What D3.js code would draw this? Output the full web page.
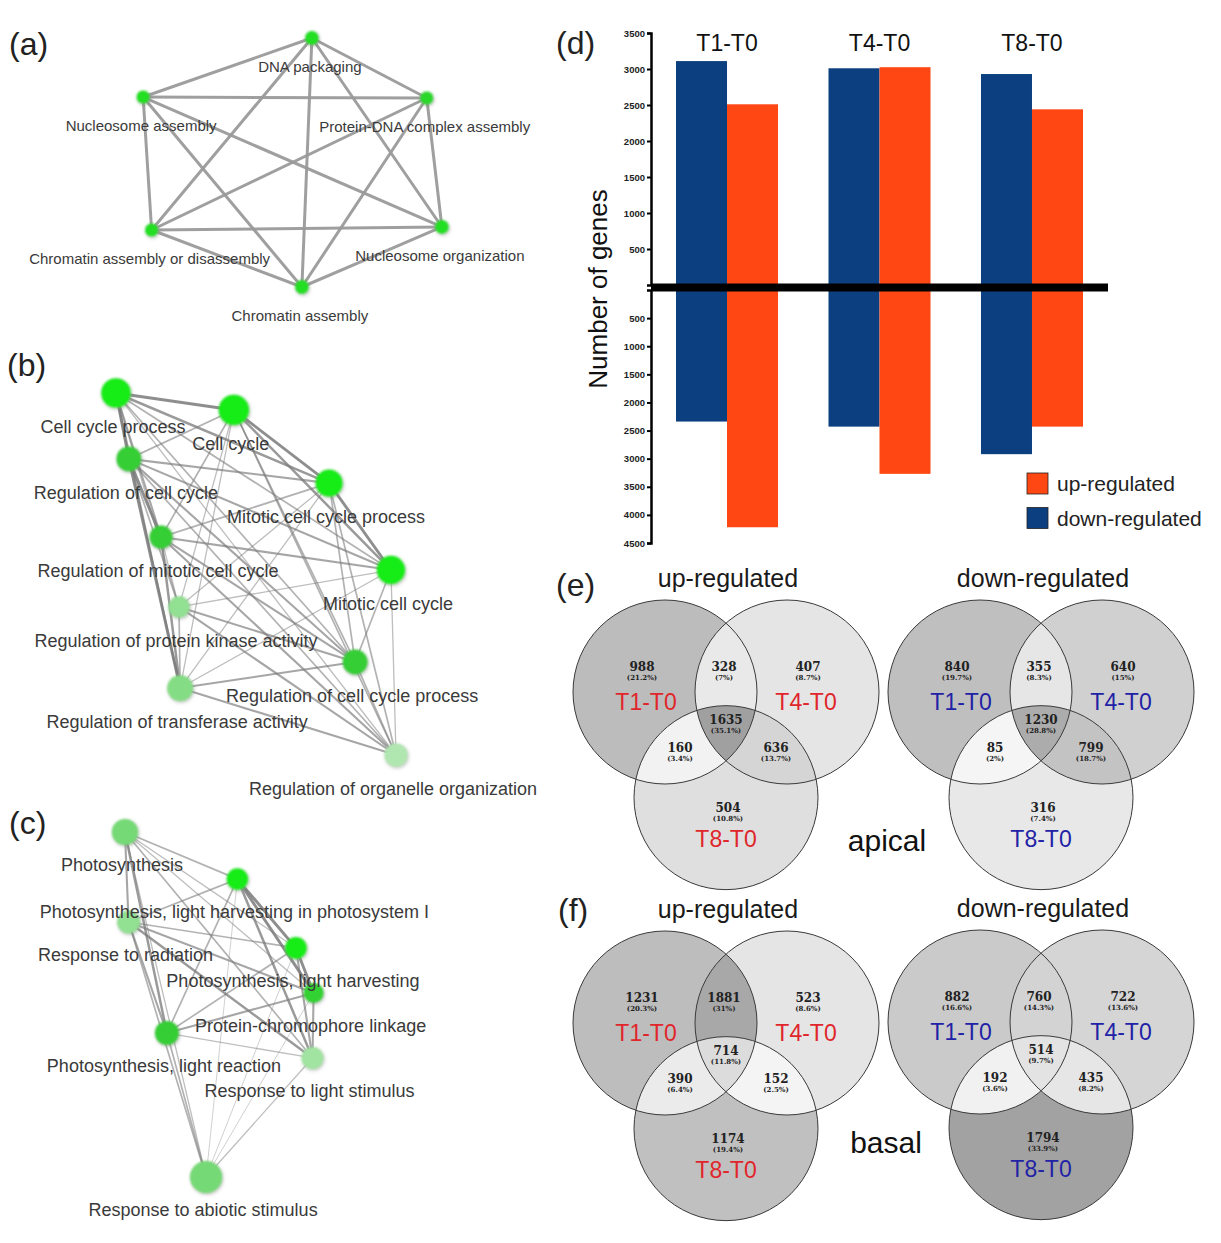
<!DOCTYPE html>
<html>
<head>
<meta charset="utf-8">
<script src="https://cdn.jsdelivr.net/npm/d3@7"></script>
<style>
  body { margin: 0; background: #fff; }
  svg { display: block; font-family: "Liberation Sans", Arial, sans-serif; }
  .net-label { fill: #3a3a3a; text-anchor: middle; }
  .axis-d path, .axis-d line { stroke: #000; }
  .axis-d text { font-weight: bold; font-size: 9.5px; fill: #222; }
</style>
</head>
<body>
<div id="chart"></div>
<script>
// ---------- (a) GO network ----------
const netANames = ['DNA packaging', 'Nucleosome assembly', 'Protein-DNA complex assembly',
  'Chromatin assembly or disassembly', 'Nucleosome organization', 'Chromatin assembly'];
const netALayout = [[56.4, 0], [0.7, 23.7], [94.3, 24.1], [3.5, 77.1], [99.3, 75.9], [53.1, 100]];
const netASize = [4.6, 4.4, 4.4, 4.4, 4.6, 4.6];
const netAShade = [0.8, 0.8, 0.7, 0.8, 0.8, 0.8];
const netAEdges = [[0, 1, 3], [0, 2, 3], [0, 3, 3], [0, 4, 3], [0, 5, 3], [1, 2, 3], [1, 3, 3], [1, 4, 3],
  [1, 5, 3], [2, 3, 3], [2, 4, 3], [2, 5, 3], [3, 4, 3], [3, 5, 3], [4, 5, 3]];

// ---------- (b) GO network ----------
const netBNames = ['Cell cycle process', 'Cell cycle', 'Regulation of cell cycle', 'Mitotic cell cycle process',
  'Regulation of mitotic cell cycle', 'Mitotic cell cycle', 'Regulation of protein kinase activity',
  'Regulation of cell cycle process', 'Regulation of transferase activity', 'Regulation of organelle organization'];
const netBLayout = [[0, 0], [42.1, 4.7], [4.6, 18.2], [76.1, 24.9], [16.1, 39.8], [98.2, 48.9],
  [22.5, 59.1], [85.4, 74.3], [22.9, 81.5], [100, 100]];
const netBSize = [9.9, 10.2, 8.3, 9.1, 7.7, 9.5, 7.1, 8.3, 8.6, 7.7];
const netBShade = [1, 1, 0.55, 1, 0.55, 1, 0.2, 0.55, 0.25, 0.1];
const netBEdges = [[0, 1, 3], [0, 2, 3], [0, 3, 2.5], [0, 4, 2], [0, 5, 1.5], [0, 6, 1], [0, 7, 1.5], [0, 8, 2], [0, 9, 1],
  [1, 2, 1.5], [1, 3, 3], [1, 4, 1.5], [1, 5, 2.5], [1, 6, 1], [1, 7, 1.5], [1, 8, 1], [1, 9, 1.5],
  [2, 3, 2], [2, 4, 3], [2, 5, 2], [2, 6, 1.5], [2, 7, 2], [2, 8, 3], [2, 9, 1.5],
  [3, 4, 1.5], [3, 5, 3], [3, 6, 1], [3, 7, 1.5], [3, 8, 1], [3, 9, 1.5],
  [4, 5, 2], [4, 6, 1], [4, 7, 2], [4, 8, 2.5], [4, 9, 2],
  [5, 6, 1], [5, 7, 1.5], [5, 8, 1], [5, 9, 1],
  [6, 7, 2], [6, 8, 1.5], [6, 9, 2], [7, 8, 2], [7, 9, 1.5], [8, 9, 2]];

// ---------- (c) GO network ----------
const netCNames = ['Photosynthesis', 'Photosynthesis, light harvesting in photosystem I', 'Response to radiation',
  'Photosynthesis, light harvesting', 'Protein-chromophore linkage', 'Photosynthesis, light reaction',
  'Response to light stimulus', 'Response to abiotic stimulus'];
const netCLayout = [[0.5, 0.3], [59.7, 13.9], [2.4, 26.3], [90.5, 33.8], [99.8, 46.8], [22.6, 58.4], [99.2, 65.6], [43.2, 100]];
const netCSize = [8.7, 7.2, 7.6, 7.3, 6.7, 8, 7.3, 10.7];
const netCShade = [0.3, 1, 0.2, 1, 0.6, 0.55, 0.15, 0.3];
const netCEdges = [[0, 1, 1.5], [0, 2, 2], [0, 3, 1], [0, 4, 1], [0, 5, 2.5], [0, 6, 1.5], [0, 7, 1],
  [1, 2, 1.5], [1, 3, 3], [1, 4, 3], [1, 5, 1.5], [1, 6, 2.5], [1, 7, 0.5],
  [2, 3, 1.5], [2, 4, 2], [2, 5, 2], [2, 6, 2.5], [2, 7, 1.5],
  [3, 4, 3], [3, 5, 1.5], [3, 6, 2], [3, 7, 0.5],
  [4, 5, 2], [4, 6, 2], [4, 7, 0.5], [5, 6, 1], [5, 7, 1.5], [6, 7, 1]];

// ---------- (d) bar chart ----------
const comparisons = ['T1-T0', 'T4-T0', 'T8-T0'];
const barSeries = ['down-regulated', 'up-regulated'];
const aboveDown = [3110, 3010, 2930];
const aboveUp = [2510, 3025, 2440];
const belowDown = [2340, 2430, 2920];
const belowUp = [4220, 3270, 2430];
const upperTicks = [500, 1000, 1500, 2000, 2500, 3000, 3500];
const lowerTicks = [500, 1000, 1500, 2000, 2500, 3000, 3500, 4000, 4500];

// ---------- (e), (f) Venn diagrams ----------
// region order: T1 only, T4 only, T1&T4, T1&T8, T4&T8, all three, T8 only
const vennSets = ['T1-T0', 'T4-T0', 'T8-T0'];
const apicalUpCounts = [988, 407, 328, 160, 636, 1635, 504];
const apicalUpPct = [21.2, 8.7, 7, 3.4, 13.7, 35.1, 10.8];
const apicalDownCounts = [840, 640, 355, 85, 799, 1230, 316];
const apicalDownPct = [19.7, 15, 8.3, 2, 18.7, 28.8, 7.4];
const basalUpCounts = [1231, 523, 1881, 390, 152, 714, 1174];
const basalUpPct = [20.3, 8.6, 31, 6.4, 2.5, 11.8, 19.4];
const basalDownCounts = [882, 722, 760, 192, 435, 514, 1794];
const basalDownPct = [16.6, 13.6, 14.3, 3.6, 8.2, 9.7, 33.9];

const W = 1221, H = 1243;
const svg = d3.select('#chart').append('svg')
  .attr('width', W)
  .attr('height', H)
  .style('background', '#fff');

const defs = svg.append('defs');
const glow = defs.append('filter').attr('id', 'node-glow')
  .attr('x', '-50%').attr('y', '-50%').attr('width', '200%').attr('height', '200%');
glow.append('feGaussianBlur').attr('in', 'SourceGraphic').attr('stdDeviation', 0.9).attr('result', 'soft');
glow.append('feDropShadow').attr('in', 'soft').attr('dx', 1).attr('dy', 1.5)
  .attr('stdDeviation', 1.8).attr('flood-color', '#777').attr('flood-opacity', 0.45);

// panel letters
const panelLetters = [['(a)', 9, 55], ['(b)', 7, 376], ['(c)', 9, 834], ['(d)', 556, 54], ['(e)', 556, 596], ['(f)', 558, 921]];
svg.selectAll('text.panel')
  .data(panelLetters)
  .join('text')
  .attr('class', 'panel')
  .attr('x', d => d[1])
  .attr('y', d => d[2])
  .attr('font-size', 32)
  .attr('fill', '#222')
  .text(d => d[0]);

// ----- networks -----
const nodeColor = d3.scaleLinear().domain([0, 0.5, 1]).range(['#cdeecd', '#3acb3a', '#14ec14']);
const nodeRadius = d3.scaleLinear().domain([0, 10]).range([0, 15]);

function drawNetwork(cfg) {
  const x = d3.scaleLinear().domain([0, 100]).range(cfg.xRange);
  const y = d3.scaleLinear().domain([0, 100]).range(cfg.yRange);
  const g = svg.append('g');
  const nodes = cfg.names.map((name, i) => ({
    name, x: x(cfg.layout[i][0]), y: y(cfg.layout[i][1]), r: nodeRadius(cfg.size[i]), shade: cfg.shade[i],
  }));

  const width = d3.scaleLinear().domain([0.5, 3]).range(cfg.edgeWidth);
  const opacity = d3.scaleLinear().domain([0.5, 3]).range(cfg.edgeOpacity);

  g.selectAll('line')
    .data(cfg.edges)
    .join('line')
    .attr('x1', d => nodes[d[0]].x)
    .attr('y1', d => nodes[d[0]].y)
    .attr('x2', d => nodes[d[1]].x)
    .attr('y2', d => nodes[d[1]].y)
    .attr('stroke', cfg.edgeColor)
    .attr('stroke-opacity', d => opacity(d[2]))
    .attr('stroke-width', d => width(d[2]))
    .attr('stroke-linecap', 'round');

  g.selectAll('circle')
    .data(nodes)
    .join('circle')
    .attr('cx', d => d.x)
    .attr('cy', d => d.y)
    .attr('r', d => d.r)
    .attr('fill', d => nodeColor(d.shade))
    .attr('filter', 'url(#node-glow)');

  g.selectAll('text')
    .data(nodes)
    .join('text')
    .attr('class', 'net-label')
    .attr('x', d => d.x - cfg.labelDx)
    .attr('y', d => d.y + cfg.labelDy)
    .attr('font-size', cfg.fontSize)
    .text(d => d.name);
}

drawNetwork({
  names: netANames, layout: netALayout, size: netASize, shade: netAShade, edges: netAEdges,
  xRange: [141, 444], yRange: [38, 287], edgeWidth: [3, 3], edgeOpacity: [0.95, 0.95], edgeColor: '#9a9a9a',
  labelDx: 2, labelDy: 34, fontSize: 15,
});
drawNetwork({
  names: netBNames, layout: netBLayout, size: netBSize, shade: netBShade, edges: netBEdges,
  xRange: [116, 396], yRange: [393, 755], edgeWidth: [0.9, 2.9], edgeOpacity: [0.4, 0.85], edgeColor: '#7a7a7a',
  labelDx: 3, labelDy: 40, fontSize: 18,
});
drawNetwork({
  names: netCNames, layout: netCLayout, size: netCSize, shade: netCShade, edges: netCEdges,
  xRange: [124, 314], yRange: [831, 1177], edgeWidth: [0.9, 2.9], edgeOpacity: [0.4, 0.85], edgeColor: '#7a7a7a',
  labelDx: 3, labelDy: 39, fontSize: 18,
});

// ----- (d) bars -----
const barColor = d3.scaleOrdinal().domain(barSeries).range(['#0c3f7f', '#ff4713']);
const x0 = d3.scaleBand().domain(comparisons).range([651, 1108]).paddingInner(0.331).paddingOuter(0.164);
const x1 = d3.scaleBand().domain(barSeries).range([0, x0.bandwidth()]);
const yUp = d3.scaleLinear().domain([0, 3500]).range([285, 33]);
const yDn = d3.scaleLinear().domain([0, 4500]).range([290, 543]);

const barRows = comparisons.flatMap((c, i) => [
  { c, s: 'down-regulated', above: aboveDown[i], below: belowDown[i] },
  { c, s: 'up-regulated', above: aboveUp[i], below: belowUp[i] },
]);

const dG = svg.append('g');
dG.selectAll('rect.above')
  .data(barRows)
  .join('rect')
  .attr('class', 'above')
  .attr('x', d => x0(d.c) + x1(d.s))
  .attr('y', d => yUp(d.above))
  .attr('width', x1.bandwidth())
  .attr('height', d => yUp(0) - yUp(d.above) + 2)
  .attr('fill', d => barColor(d.s));

dG.selectAll('rect.below')
  .data(barRows)
  .join('rect')
  .attr('class', 'below')
  .attr('x', d => x0(d.c) + x1(d.s))
  .attr('y', yDn(0) - 2)
  .attr('width', x1.bandwidth())
  .attr('height', d => yDn(d.below) - yDn(0) + 2)
  .attr('fill', d => barColor(d.s));

const tickFmt = d3.format('d');
dG.append('g')
  .attr('class', 'axis-d')
  .attr('transform', `translate(${x0.range()[0]},0)`)
  .call(d3.axisLeft(yUp).tickValues(upperTicks).tickFormat(tickFmt).tickSize(4).tickPadding(2).tickSizeOuter(4))
  .call(g => g.select('.domain').attr('stroke-width', 2.5))
  .call(g => g.selectAll('.tick line').attr('stroke-width', 2));

dG.append('g')
  .attr('class', 'axis-d')
  .attr('transform', `translate(${x0.range()[0]},0)`)
  .call(d3.axisLeft(yDn).tickValues(lowerTicks).tickFormat(tickFmt).tickSize(4).tickPadding(2).tickSizeOuter(4))
  .call(g => g.select('.domain').attr('stroke-width', 2.5))
  .call(g => g.selectAll('.tick line').attr('stroke-width', 2));

dG.append('line')
  .attr('x1', x0.range()[0])
  .attr('x2', x0.range()[1])
  .attr('y1', (yUp(0) + yDn(0)) / 2)
  .attr('y2', (yUp(0) + yDn(0)) / 2)
  .attr('stroke', '#000')
  .attr('stroke-width', 8);

dG.selectAll('text.cat')
  .data(comparisons)
  .join('text')
  .attr('class', 'cat')
  .attr('x', d => x0(d) + x0.bandwidth() / 2)
  .attr('y', 51)
  .attr('text-anchor', 'middle')
  .attr('font-size', 23)
  .attr('fill', '#111')
  .text(d => d);

dG.append('text')
  .attr('transform', 'translate(607,289) rotate(-90)')
  .attr('text-anchor', 'middle')
  .attr('font-size', 26)
  .attr('fill', '#111')
  .text('Number of genes');

const legend = dG.selectAll('g.legend')
  .data(barSeries.slice().reverse())
  .join('g')
  .attr('class', 'legend')
  .attr('transform', (d, i) => `translate(1027,${473 + i * 34.5})`);
legend.append('rect')
  .attr('width', 21)
  .attr('height', 21)
  .attr('fill', d => barColor(d))
  .attr('stroke', '#222')
  .attr('stroke-width', 0.8);
legend.append('text')
  .attr('x', 30)
  .attr('y', 18)
  .attr('font-size', 21)
  .attr('fill', '#222')
  .text(d => d);

// ----- (e), (f) Venn -----
const vennShade = d3.scaleLinear().domain([0, 10, 20, 36]).range([250, 226, 190, 158]).clamp(true);
const vennR = 92, vennD = 122;
// label offsets per region, relative to the Venn centre
const regionSpots = [[-84, -24], [82, -24], [-2, -24], [-46, 57], [50, 57], [0, 29], [2, 117]];
const setSpots = [[-80, 18], [80, 18], [0, 155]];
let vennId = 0;

function drawVenn(cx, cy, title, counts, pct, setColor) {
  const id = vennId++;
  const circles = [[cx - vennD / 2, cy], [cx + vennD / 2, cy], [cx, cy + vennD * Math.sqrt(3) / 2]];
  const fill = i => { const v = Math.round(vennShade(pct[i])); return d3.rgb(v, v, v); };
  const g = svg.append('g');

  circles.forEach((c, i) => {
    defs.append('clipPath').attr('id', `v${id}-${i}`)
      .append('circle').attr('cx', c[0]).attr('cy', c[1]).attr('r', vennR);
  });
  const disc = (sel, c, color) => sel.append('circle')
    .attr('cx', c[0]).attr('cy', c[1]).attr('r', vennR).attr('fill', color);

  // singles, then pairs, then triple on top
  disc(g, circles[0], fill(0));
  disc(g, circles[1], fill(1));
  disc(g, circles[2], fill(6));
  disc(g.append('g').attr('clip-path', `url(#v${id}-0)`), circles[1], fill(2));
  disc(g.append('g').attr('clip-path', `url(#v${id}-0)`), circles[2], fill(3));
  disc(g.append('g').attr('clip-path', `url(#v${id}-1)`), circles[2], fill(4));
  disc(g.append('g').attr('clip-path', `url(#v${id}-0)`).append('g').attr('clip-path', `url(#v${id}-1)`), circles[2], fill(5));

  g.selectAll('circle.outline')
    .data(circles)
    .join('circle')
    .attr('class', 'outline')
    .attr('cx', d => d[0])
    .attr('cy', d => d[1])
    .attr('r', vennR)
    .attr('fill', 'none')
    .attr('stroke', '#3a3a3a')
    .attr('stroke-width', 1);

  const lab = g.selectAll('g.region')
    .data(counts)
    .join('g')
    .attr('class', 'region')
    .attr('transform', (d, i) => `translate(${cx + regionSpots[i][0]},${cy + regionSpots[i][1]})`)
    .attr('text-anchor', 'middle')
    .attr('font-family', '"DejaVu Serif", serif')
    .attr('font-weight', 'bold')
    .attr('fill', '#222');
  lab.append('text').attr('y', 3).attr('font-size', 12).text(d => d);
  lab.append('text').attr('y', 11.5).attr('font-size', 7).text((d, i) => `(${pct[i]}%)`);

  g.selectAll('text.set')
    .data(vennSets)
    .join('text')
    .attr('class', 'set')
    .attr('x', (d, i) => cx + setSpots[i][0])
    .attr('y', (d, i) => cy + setSpots[i][1])
    .attr('text-anchor', 'middle')
    .attr('font-size', 23)
    .attr('fill', setColor)
    .text(d => d);

  g.append('text')
    .attr('x', cx + 2)
    .attr('y', cy - 105)
    .attr('text-anchor', 'middle')
    .attr('font-size', 25)
    .attr('fill', '#1a1a1a')
    .text(title);
}

const red = '#e0262b', blue = '#2222a6';
drawVenn(726, 692, 'up-regulated', apicalUpCounts, apicalUpPct, red);
drawVenn(1041, 692, 'down-regulated', apicalDownCounts, apicalDownPct, blue);
drawVenn(726, 1023, 'up-regulated', basalUpCounts, basalUpPct, red);
drawVenn(1041, 1022, 'down-regulated', basalDownCounts, basalDownPct, blue);

svg.append('text').attr('x', 887).attr('y', 851).attr('text-anchor', 'middle')
  .attr('font-size', 30).attr('fill', '#111').text('apical');
svg.append('text').attr('x', 886).attr('y', 1153).attr('text-anchor', 'middle')
  .attr('font-size', 30).attr('fill', '#111').text('basal');
</script>
</body>
</html>
